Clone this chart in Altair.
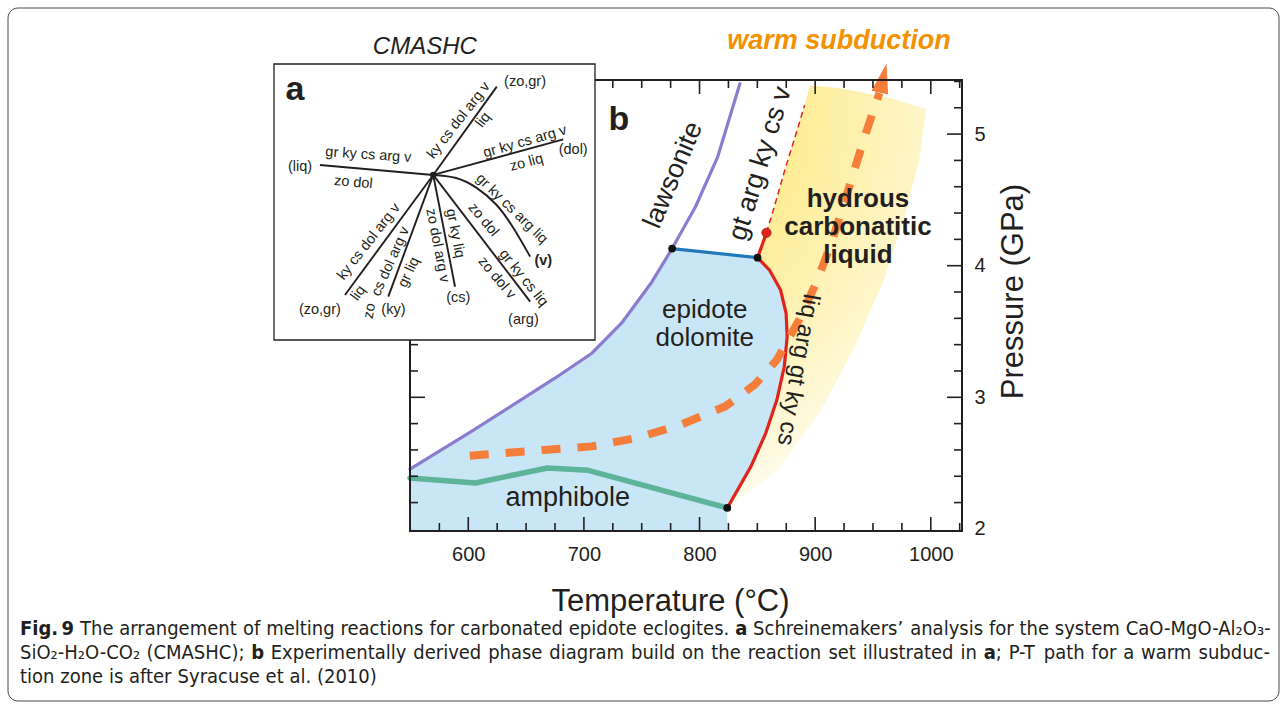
import altair as alt
import pandas as pd

FONT = "Liberation Sans"
NARROW = "DejaVu Sans Condensed, Liberation Sans Narrow, sans-serif"
INK = "#231f20"
W, H = 552, 451
OX, OY = 410, 80   # plot origin on the page

# ---------------- panel b : scale extents and ticks ----------------
T_range = [549.6, 1027.0]
P_range = [1.984, 5.411]
x_major = [600, 700, 800, 900, 1000]
x_minor = [575, 625, 650, 675, 725, 750, 775, 825, 850, 875, 925, 950, 975, 1025]
y_major = [3, 4, 5]
y_minor = [2.2, 2.4, 2.6, 2.8, 3.2, 3.4, 3.6, 3.8, 4.2, 4.4, 4.6, 4.8, 5.2, 5.4]
y_labels = [2, 3, 4, 5]

# ---------------- panel b : phase boundaries (T degC, P GPa) ----------------
law_T = [549.6, 604.5, 674.9, 706.9, 732.5, 758.0, 776.3, 796.5, 815.7, 834.9]
law_P = [2.455, 2.750, 3.145, 3.335, 3.563, 3.866, 4.130, 4.448, 4.827, 5.383]

ed_T = [776.3, 850.2]
ed_P = [4.130, 4.061]

sol_T = [850.2, 860.5, 870.1, 874.9, 875.8, 873.3, 866.9, 857.3, 844.5, 824.0]
sol_P = [4.061, 3.967, 3.815, 3.638, 3.461, 3.234, 2.981, 2.728, 2.475, 2.159]

up_T = [850.2, 857.9]
up_P = [4.061, 4.250]

dash_T = [857.9, 866.4, 874.5, 883.4, 890.9]
dash_P = [4.250, 4.500, 4.750, 5.000, 5.220]

amph_T = [549.6, 606.0, 668.5, 703.7, 824.0]
amph_P = [2.387, 2.349, 2.463, 2.445, 2.159]

path_T = [601.3, 668.5, 706.9, 745.3, 783.7, 822.1, 847.7, 866.9, 886.1, 902.1, 914.9, 927.7, 943.7, 955.6]
path_P = [2.556, 2.602, 2.627, 2.690, 2.791, 2.930, 3.095, 3.284, 3.588, 3.891, 4.195, 4.549, 5.004, 5.312]
arrow_T = [958.8]
arrow_P = [5.426]

liq_top_T = [895.5, 920.0, 945.0, 970.0, 996.0]
liq_top_P = [5.370, 5.350, 5.310, 5.260, 5.190]
liq_edge_T = [990.0, 978.0, 960.0, 935.0, 905.0, 868.0]
liq_edge_P = [4.800, 4.400, 3.900, 3.400, 2.900, 2.450]

dot_T = [776.3, 850.2, 824.0]
dot_P = [4.130, 4.061, 2.159]
red_dot_T = [857.9]
red_dot_P = [4.250]

# ---------------- panel a : Schreinemakers diagram (unit box 0-100) ----------------
inv_u, inv_v = 49.6, 59.8
ray_u = [14.3, 69.4, 90.1, 79.8, 56.4, 35.6, 22.1]
ray_v = [63.4, 91.8, 72.7, 13.9, 19.3, 15.7, 16.3]
vcurve_u = [49.6, 56.9, 63.1, 69.4, 74.5, 79.8]
vcurve_v = [59.8, 59.2, 55.5, 49.5, 41.1, 30.2]

end_text = ["(liq)", "(zo,gr)", "(dol)", "(arg)", "(cs)", "(ky)", "(zo,gr)"]
end_u = [8.1, 78.2, 93.2, 77.7, 57.4, 37.2, 14.3]
end_v = [62.8, 93.6, 68.8, 7.2, 15.1, 10.9, 10.9]

rx_text = ["gr ky cs arg v", "zo dol", "ky cs dol arg v", "liq", "gr ky cs arg v", "zo liq",
           "gr ky cs arg liq", "zo dol", "gr ky cs liq", "zo dol v", "gr ky liq", "zo dol arg v",
           "cs dol arg v", "gr liq", "zo", "ky cs dol arg v", "liq"]
rx_u = [29.4, 24.7, 57.6, 65.2, 78.2, 78.7, 74.0, 65.2, 77.7, 69.4, 56.4, 50.9, 36.4, 42.1, 29.9, 29.6, 26.3]
rx_v = [67.0, 57.0, 79.5, 79.7, 71.8, 64.2, 47.5, 43.5, 22.4, 22.4, 38.6, 34.2, 28.4, 24.5, 10.5, 35.6, 16.9]
rx_angle = [4, 5, 308, 308, 344, 345, 44, 50, 51, 50, 79, 79, 294, 295, 280, 308, 306]

# ---------------- caption (runs of text, bold flag) ----------------
cap_line1 = [("Fig. 9", True),
             (" The arrangement of melting reactions for carbonated epidote eclogites. ", False),
             ("a", True),
             (" Schreinemakers’ analysis for the system CaO-MgO-Al₂O₃-", False)]
cap_line2 = [("SiO₂-H₂O-CO₂ (CMASHC); ", False),
             ("b", True),
             (" Experimentally derived phase diagram build on the reaction set illustrated in ", False),
             ("a", True),
             ("; P-T path for a warm subduc-", False)]
cap_line3 = [("tion zone is after Syracuse et al. (2010)", False)]

# ---------------- helpers ----------------
xs = alt.Scale(domain=T_range, nice=False, zero=False)
ys = alt.Scale(domain=P_range, nice=False, zero=False)
us = alt.Scale(domain=[0, 100], range=[274 - OX, 595 - OX], nice=False, zero=False)
vs = alt.Scale(domain=[0, 100], range=[340 - OY, 64 - OY], nice=False, zero=False)

x_axis = alt.Axis(values=x_major, ticks=False, domain=False, grid=False, format="d",
                  labelFont=FONT, labelFontSize=20, labelColor=INK, labelPadding=13,
                  title="Temperature (°C)", titleFont=FONT, titleFontSize=31,
                  titleFontWeight="normal", titleColor=INK, titlePadding=22, titleX=260)
y_axis = alt.Axis(orient="right", values=y_labels, ticks=False, domain=False, grid=False, format="d",
                  labelFont=FONT, labelFontSize=20, labelColor=INK, labelPadding=12,
                  title="Pressure (GPa)", titleFont=FONT, titleFontSize=31,
                  titleFontWeight="normal", titleColor=INK, titleAngle=270,
                  titleX=51, titleY=211, titleAlign="center", titleBaseline="middle")


def pts(T, P):
    return pd.DataFrame({"T": T, "P": P, "i": list(range(len(T)))})


def XT():
    return alt.X("T:Q", scale=xs, axis=x_axis)


def YP():
    return alt.Y("P:Q", scale=ys, axis=y_axis)


def curve(T, P, color, width, dash=None, cap="round"):
    kw = dict(color=color, strokeWidth=width, strokeCap=cap, strokeJoin="round")
    if dash:
        kw["strokeDash"] = dash
    return alt.Chart(pts(T, P)).mark_line(**kw).encode(x=XT(), y=YP(), order="i:Q")


def note_b(text, T, P, size, angle=0, weight="normal", style="normal", color=INK):
    kw = dict(text=text, font=FONT, fontSize=size, fontWeight=weight, color=color,
              align="center", baseline="middle")
    if angle:
        kw["angle"] = angle
    if style != "normal":
        kw["fontStyle"] = style
    return alt.Chart(pd.DataFrame({"T": [T], "P": [P]})).mark_text(**kw).encode(x=XT(), y=YP())


def free_text(text, px, py, size, weight="normal"):
    return alt.Chart(pd.DataFrame({"d": [0]})).mark_text(
        text=text, font=NARROW, fontSize=size, fontWeight=weight, color=INK,
        align="left", baseline="middle").encode(x=alt.value(px - OX), y=alt.value(py - OY))


def UA():
    return alt.X("u:Q", scale=us, axis=None)


def VA():
    return alt.Y("v:Q", scale=vs, axis=None)


def note_a(text, u, v, size=14.5, angle=0, weight="normal", style="normal"):
    kw = dict(text=text, font=FONT, fontSize=size, fontWeight=weight, color=INK,
              align="center", baseline="middle")
    if angle:
        kw["angle"] = angle
    if style != "normal":
        kw["fontStyle"] = style
    return alt.Chart(pd.DataFrame({"u": [u], "v": [v]})).mark_text(**kw).encode(x=UA(), y=VA())


# approximate advance widths (em) of DejaVu Sans, used only to justify the caption
ADV = {" ": .318, "(": .390, ")": .390, ",": .318, "-": .361, ".": .318, ";": .337, "’": .318,
       "₂": .40, "₃": .40, "A": .684, "C": .698, "F": .575, "G": .775, "H": .752, "M": .863,
       "O": .787, "P": .603, "S": .635, "T": .611, "E": .632, "a": .613, "b": .635, "c": .550,
       "d": .635, "e": .615, "f": .352, "g": .635, "h": .634, "i": .278, "j": .278, "k": .579,
       "l": .278, "m": .974, "n": .634, "o": .612, "p": .635, "q": .635, "r": .411, "s": .521,
       "t": .392, "u": .634, "v": .592, "w": .818, "x": .592, "y": .592, "z": .525}


def adv(s, size, bold):
    return sum(ADV.get(c, .636) for c in s) * 0.9 * size * (1.1 if bold else 1.0)


def caption_line(runs, py, size, justify, left=20, right=1270):
    chars = [(c, b) for t, b in runs for c in t]
    words, cur = [], []
    for c, b in chars:
        if c == " ":
            if cur:
                words.append(cur)
            cur = []
        else:
            cur.append((c, b))
    if cur:
        words.append(cur)
    wruns = []
    for w in words:
        rr = []
        for c, b in w:
            if rr and rr[-1][1] == b:
                rr[-1][0] += c
            else:
                rr.append([c, b])
        wruns.append(rr)
    widths = [sum(adv(t, size, b) for t, b in rr) for rr in wruns]
    gap = adv(" ", size, False)
    if justify and len(wruns) > 1:
        gap = (right - left - sum(widths)) / (len(wruns) - 1)
    out, x = [], left
    for rr, wd in zip(wruns, widths):
        xx = x
        for t, b in rr:
            out.append(free_text(t, xx, py, size, weight="bold" if b else "normal"))
            xx += adv(t, size, b)
        x += wd + gap
    return out


# ---------------- panel b layers ----------------
blue_T = [T_range[0]] + law_T[:7] + ed_T[1:] + sol_T[1:] + [sol_T[-1]]
blue_P = [P_range[0]] + law_P[:7] + ed_P[1:] + sol_P[1:] + [P_range[0]]

blue_field = alt.Chart(pts(blue_T, blue_P)).mark_line(fill="#c9e6f6", strokeOpacity=0).encode(
    x=XT(), y=YP(), order="i:Q")

yel_T = sol_T[::-1] + up_T[1:] + dash_T[1:] + liq_top_T + liq_edge_T
yel_P = sol_P[::-1] + up_P[1:] + dash_P[1:] + liq_top_P + liq_edge_P
yellow = alt.RadialGradient(
    gradient="radial", x1=0.0, y1=0.08, r1=0, x2=0.0, y2=0.08, r2=1.15,
    stops=[alt.GradientStop(color="#fde25a", offset=0),
           alt.GradientStop(color="#fdea88", offset=0.3),
           alt.GradientStop(color="#fef5c6", offset=0.62),
           alt.GradientStop(color="#ffffff", offset=0.92)])
liquid_field = alt.Chart(pts(yel_T, yel_P)).mark_line(fill=yellow, strokeOpacity=0).encode(
    x=XT(), y=YP(), order="i:Q")

layers_b = [blue_field, liquid_field,
            curve(law_T, law_P, "#8a7dcf", 3.2),
            curve(amph_T, amph_P, "#5eb49a", 5.5),
            curve(ed_T, ed_P, "#2279b9", 3.2),
            curve(sol_T, sol_P, "#e2231a", 3.2),
            curve(up_T, up_P, "#e2231a", 3.2),
            curve(dash_T, dash_P, "#e2231a", 1.5, dash=[6, 4], cap="butt"),
            curve(path_T, path_P, "#f47e3a", 8, dash=[19, 17], cap="butt"),
            alt.Chart(pts(arrow_T, arrow_P)).mark_point(
                shape="M -0.57 1 L 0 -1 L 0.57 1 Z", filled=True, size=900, angle=13,
                color="#f47e3a", opacity=1).encode(x=XT(), y=YP()),
            alt.Chart(pts(dot_T, dot_P)).mark_circle(size=60, color="#111111", opacity=1).encode(x=XT(), y=YP()),
            alt.Chart(pts(red_dot_T, red_dot_P)).mark_circle(size=85, color="#e2231a", opacity=1,
                                                             stroke="#9b1b12", strokeWidth=0.8).encode(x=XT(), y=YP()),
            ]

# ticks (inward) and frame
for vals, ln in [(x_major, 14), (x_minor, 8)]:
    d = pd.DataFrame({"T": vals})
    layers_b.append(alt.Chart(d).mark_rule(color=INK, strokeWidth=1.6).encode(
        x=XT(), y=alt.value(H), y2=alt.value(H - ln)))
    layers_b.append(alt.Chart(d).mark_rule(color=INK, strokeWidth=1.6).encode(
        x=XT(), y=alt.value(0), y2=alt.value(ln)))
for vals, ln in [(y_major, 15), (y_minor, 8)]:
    d = pd.DataFrame({"P": vals})
    layers_b.append(alt.Chart(d).mark_rule(color=INK, strokeWidth=1.6).encode(
        y=YP(), x=alt.value(W), x2=alt.value(W - ln)))
    layers_b.append(alt.Chart(d).mark_rule(color=INK, strokeWidth=1.6).encode(
        y=YP(), x=alt.value(0), x2=alt.value(ln)))
layers_b.append(alt.Chart(pd.DataFrame({"d": [0]})).mark_rect(
    fillOpacity=0, stroke=INK, strokeWidth=2).encode(
    x=alt.value(0), x2=alt.value(W), y=alt.value(0), y2=alt.value(H)))

# region labels
layers_b += [
    note_b("b", 730.2, 5.107, 34, weight="bold"),
    note_b("lawsonite", 777.3, 4.688, 27, angle=293),
    note_b("gt arg ky cs v", 852.5, 4.776, 27, angle=287),
    note_b("epidote", 804.5, 3.660, 26),
    note_b("dolomite", 804.5, 3.447, 26),
    note_b("amphibole", 686.0, 2.237, 27),
    note_b("hydrous", 937.0, 4.505, 26, weight="bold"),
    note_b("carbonatitic", 937.0, 4.294, 26, weight="bold"),
    note_b("liquid", 937.0, 4.083, 26, weight="bold"),
    note_b("liq arg gt ky cs", 885.0, 3.209, 24, angle=100),
    note_b("warm subduction", 920.6, 5.707, 27, weight="bold", style="italic", color="#f39200"),
]

# caption (justified like the journal layout) and the outer rounded border
CAP_SIZE = 20
layers_b += caption_line(cap_line1, 629, CAP_SIZE, True)
layers_b += caption_line(cap_line2, 653, CAP_SIZE, True)
layers_b += caption_line(cap_line3, 677, CAP_SIZE, False)

layers_b.append(alt.Chart(pd.DataFrame({"d": [0]})).mark_rect(
    fillOpacity=0, stroke="#4a4a4a", strokeWidth=1, cornerRadius=10).encode(
    x=alt.value(8 - OX), x2=alt.value(1279 - OX), y=alt.value(8 - OY), y2=alt.value(701 - OY)))

panel_b = alt.layer(*layers_b)

# ---------------- panel a layers ----------------
rays = pd.DataFrame({"u": [inv_u] * len(ray_u), "v": [inv_v] * len(ray_v), "u2": ray_u, "v2": ray_v})
box = pd.DataFrame({"u": [0], "u2": [100], "v": [0], "v2": [100]})
layers_a = [
    alt.Chart(box).mark_rect(fill="white", stroke=INK, strokeWidth=1.3).encode(
        x=UA(), x2="u2:Q", y=VA(), y2="v2:Q"),
    alt.Chart(rays).mark_rule(color=INK, strokeWidth=1.9).encode(x=UA(), y=VA(), x2="u2:Q", y2="v2:Q"),
    alt.Chart(pd.DataFrame({"u": vcurve_u, "v": vcurve_v, "i": list(range(len(vcurve_u)))})).mark_line(
        color=INK, strokeWidth=1.9, interpolate="basis").encode(x=UA(), y=VA(), order="i:Q"),
    alt.Chart(pd.DataFrame({"u": [inv_u], "v": [inv_v]})).mark_circle(size=40, color=INK, opacity=1).encode(
        x=UA(), y=VA()),
    note_a("a", 6.5, 90.6, size=34, weight="bold"),
    note_a("CMASHC", 47.0, 106.3, size=24, style="italic"),
    note_a("(v)", 83.9, 28.6, weight="bold"),
]
for t, u, v in zip(end_text, end_u, end_v):
    layers_a.append(note_a(t, u, v))
for t, u, v, a in zip(rx_text, rx_u, rx_v, rx_angle):
    layers_a.append(note_a(t, u, v, angle=a))

panel_a = alt.layer(*layers_a)

chart = alt.layer(panel_b, panel_a).resolve_scale(x="independent", y="independent").properties(
    width=W, height=H,
    autosize=alt.AutoSizeParams(type="none"),
    padding={"left": OX, "top": OY, "right": 1287 - OX - W, "bottom": 714 - OY - H},
    background="white",
).configure_view(stroke="transparent")

chart.save("out.html", embed_options={"renderer": "svg", "actions": False})
